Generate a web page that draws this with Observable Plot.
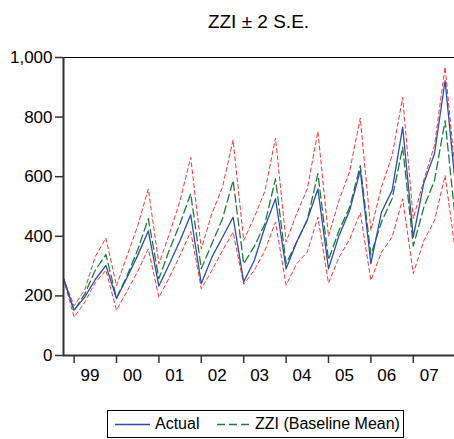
<!DOCTYPE html>
<html><head><meta charset="utf-8">
<script src="https://cdn.jsdelivr.net/npm/d3@7"></script>
<script src="https://cdn.jsdelivr.net/npm/@observablehq/plot@0.6"></script>
<style>
body{margin:0;background:#fff;font-family:"Liberation Sans",Arial,sans-serif;}
#wrap{position:relative;width:454px;height:439px;overflow:hidden;background:#fff;}
#title{position:absolute;left:63px;width:391px;top:11px;text-align:center;font-size:19px;color:#000;}
#legend{position:absolute;left:107px;top:410px;width:297px;height:28px;border:1px solid #000;box-sizing:border-box;font-size:16px;color:#000;}
.li{position:absolute;top:0;height:26px;line-height:26px;white-space:nowrap;}
.li svg{position:absolute;top:0;}
</style></head>
<body>
<div id="wrap">
  <div id="chart"></div>
  <div id="title">ZZI ± 2 S.E.</div>
  <div id="legend"></div>
</div>
<script>
// Data: quarterly, starting 1998Q4
const startYear = 1998, startQuarter = 4;
const years = [1999, 2000, 2001, 2002, 2003, 2004, 2005, 2006, 2007];
const yearLabels = ["99", "00", "01", "02", "03", "04", "05", "06", "07"];
const yTicks = [0, 200, 400, 600, 800, 1000];

const actual = [258,
  152, 196, 255, 302,
  191, 262, 336, 418,
  233, 308, 386, 472,
  241, 330, 397, 464,
  247, 319, 431, 526,
  291, 381, 455, 559,
  291, 403, 487, 621,
  308, 481, 554, 766,
  397, 580, 677, 922,
  560];
const baseline = [258,
  150, 206, 286, 339,
  193, 268, 355, 459,
  258, 355, 443, 543,
  291, 375, 459, 587,
  308, 366, 442, 593,
  308, 381, 455, 610,
  321, 420, 498, 637,
  338, 448, 526, 699,
  367, 498, 587, 788,
  445];
const upper = [260,
  167, 220, 332, 394,
  234, 335, 435, 559,
  308, 409, 520, 665,
  358, 476, 565, 723,
  386, 464, 551, 730,
  381, 476, 559, 752,
  400, 521, 618, 797,
  420, 565, 671, 866,
  459, 590, 705, 968,
  600];
const lower = [257,
  129, 178, 245, 286,
  152, 216, 282, 358,
  195, 263, 336, 416,
  224, 286, 352, 414,
  239, 286, 352, 448,
  236, 308, 347, 464,
  243, 330, 390, 479,
  252, 347, 397, 526,
  275, 386, 453, 604,
  342];

const t0 = startYear + (startQuarter - 1) / 4;
const rows = actual.map((v, i) => ({
  t: t0 + i / 4, actual: v, baseline: baseline[i], upper: upper[i], lower: lower[i]
}));

const BLUE = "#2f4db0", GREEN = "#1f7a3c", RED = "#ff3333";

const chart = Plot.plot({
  width: 454, height: 439,
  marginLeft: 63, marginRight: 0, marginTop: 57, marginBottom: 84,
  style: {fontFamily: "'Liberation Sans', Arial, sans-serif", fontSize: "17px", color: "#000", background: "#fff", overflow: "visible"},
  x: {domain: [t0, 2007.972], axis: null, label: null},
  y: {domain: [0, 1000], axis: null, label: null},
  marks: [
    Plot.lineY(rows, {x: "t", y: "upper", stroke: RED, strokeWidth: 1, strokeDasharray: "4,3", clip: true}),
    Plot.lineY(rows, {x: "t", y: "lower", stroke: RED, strokeWidth: 1, strokeDasharray: "4,3", clip: true}),
    Plot.lineY(rows, {x: "t", y: "baseline", stroke: GREEN, strokeWidth: 1.3, strokeDasharray: "8,4", clip: true}),
    Plot.lineY(rows, {x: "t", y: "actual", stroke: BLUE, strokeWidth: 1.3, clip: true}),
    Plot.ruleY([1000], {stroke: "#000", strokeWidth: 1}),
    Plot.ruleY([0], {stroke: "#333", strokeWidth: 2}),
    Plot.ruleX([t0], {stroke: "#333", strokeWidth: 2}),
    Plot.axisY({ticks: yTicks, tickSize: 8, tickPadding: 3, tickFormat: d3.format(","), stroke: "#333", strokeWidth: 1.5, fontSize: 17, label: null}),
    Plot.axisX({ticks: years, tickSize: 8, tickFormat: () => "", stroke: "#333", strokeWidth: 1.5, label: null}),
    Plot.axisX({ticks: years.map(y => y + 0.375), tickSize: 0, tickPadding: 13, fontSize: 17, label: null,
      tickFormat: d => yearLabels[years.indexOf(Math.floor(d))]})
  ]
});
document.getElementById("chart").appendChild(chart);

// Legend
const legendItems = [
  {label: "Actual", color: BLUE, dash: null, x0: 7, x1: 42, tx: 47},
  {label: "ZZI (Baseline Mean)", color: GREEN, dash: "8,4", x0: 109, x1: 145, tx: 147}
];
const lg = document.getElementById("legend");
for (const it of legendItems) {
  const d = document.createElement("div");
  d.className = "li";
  d.style.left = it.x0 + "px";
  const w = it.x1 - it.x0;
  d.innerHTML = `<svg width="${w}" height="26"><line x1="0" x2="${w}" y1="13.5" y2="13.5" stroke="${it.color}" stroke-width="1.3" ${it.dash ? `stroke-dasharray="${it.dash}"` : ""}/></svg><span style="position:absolute;left:${it.tx - it.x0}px">${it.label}</span>`;
  lg.appendChild(d);
}
</script>
</body></html>
